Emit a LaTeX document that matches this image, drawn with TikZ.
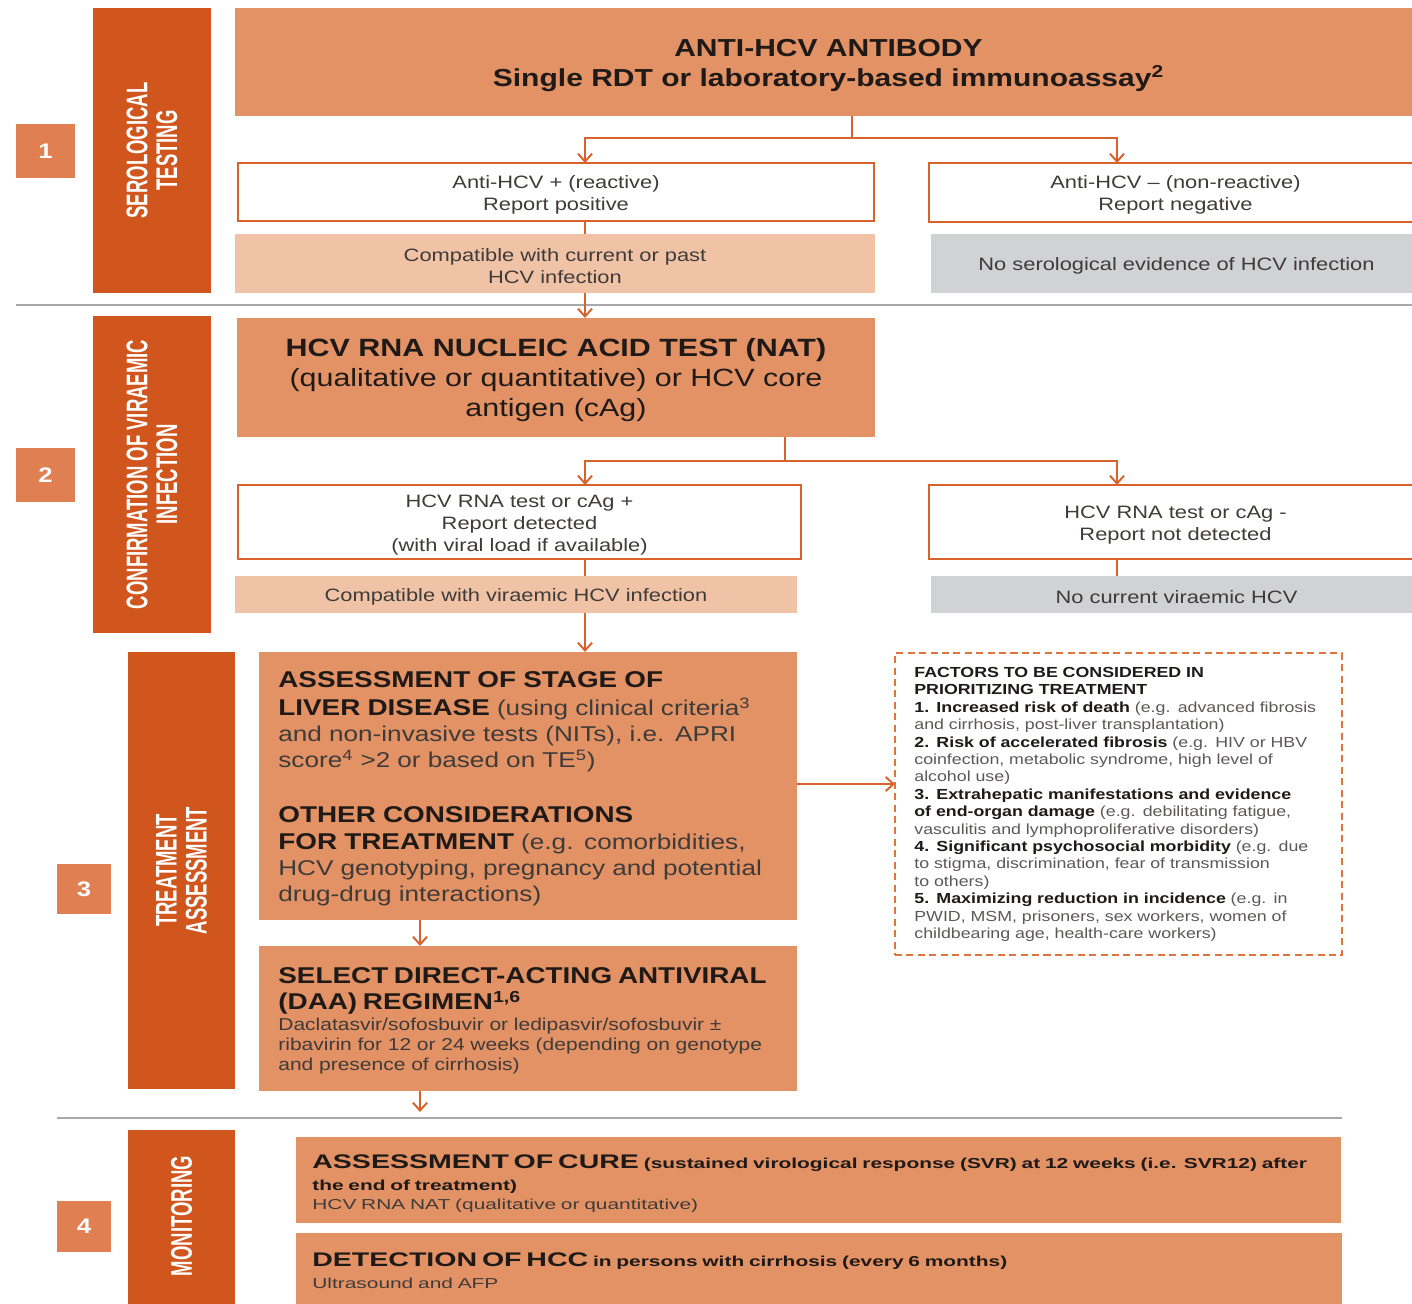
\documentclass[tikz,border=0pt]{standalone}
\usepackage{fontspec}
\setmainfont{Liberation Sans}[FakeStretch=1.22]
\newfontfamily\condf{Liberation Sans}[FakeStretch=0.62]
\newfontfamily\widef{Liberation Sans}[FakeStretch=1.45]
\usetikzlibrary{fit,arrows.meta,calc}
\definecolor{sideC}{HTML}{D0561E}
\definecolor{numC}{HTML}{E07F52}
\definecolor{mainC}{HTML}{E29265}
\definecolor{peachC}{HTML}{F1C3A6}
\definecolor{greyC}{HTML}{D1D2D4}
\definecolor{lineC}{HTML}{D8622B}
\definecolor{dashC}{HTML}{E0743A}
\definecolor{divC}{HTML}{A6A8AB}
\definecolor{darkC}{HTML}{1F1A17}
\definecolor{textC}{HTML}{3F3B39}
\newcommand{\fs}[2]{\fontsize{#1}{#2}\selectfont}
\begin{document}
\begin{tikzpicture}[x=0.02cm,y=-0.02cm,
  box/.style={inner sep=0pt, outer sep=0pt},
  sidebar/.style={box, fill=sideC},
  sidelabel/.style={inner sep=0pt, text=white, font=\condf\bfseries\fs{17}{17}, align=center, rotate=90},
  numbox/.style={box, fill=numC},
  numtext/.style={inner sep=0pt, text=white, font=\bfseries\fs{12}{12}},
  mainbox/.style={box, fill=mainC},
  outbox/.style={box, draw=lineC, line width=1.3pt, fill=white},
  peachbox/.style={box, fill=peachC},
  greybox/.style={box, fill=greyC},
  ctext/.style={inner sep=0pt, align=center, text=textC, font=\fs{10.2}{12.5}, yshift=-1.6pt},
  ltext/.style={inner sep=0pt, anchor=north west, align=left, text=textC},
  conn/.style={draw=lineC, line width=1.1pt},
  arr/.style={conn, -{Straight Barb[length=4.5pt,width=8pt,line width=1.1pt]}},
  divider/.style={draw=divC, line width=1.4pt},
  factorbox/.style={box, draw=dashC, line width=0.9pt, dash pattern=on 4pt off 2.5pt}
]
\useasboundingbox (0,0) rectangle (1412,1303);
\clip (0,0) rectangle (1412,1303);
\fill[white] (0,0) rectangle (1412,1303);

% ---------- Section 1 ----------
\node[numbox, fit={(16,124) (75,178)}] (n1) {};
\node[numtext] (n1t) at (n1.center) {1};
\node[sidebar, fit={(93,8) (211,293)}] (s1) {};
\node[sidelabel] (s1t) at (s1.center) {SEROLOGICAL\\TESTING};

\node[mainbox, fit={(235,8) (1422,116)}] (anti) {};
\node[ctext, text=darkC, font=\bfseries\fs{14}{17.2}, yshift=-0.4pt] (antiT) at (anti.center)
  {ANTI-HCV ANTIBODY\\Single RDT or laboratory-based immunoassay\textsuperscript{2}};
\node[outbox, fit={(238,163) (874,221)}] (pos) {};
\node[ctext] (posT) at (pos.center) {Anti-HCV + (reactive)\\Report positive};
\node[outbox, fit={(929,163) (1422,222)}] (neg) {};
\node[ctext] (negT) at (neg.center) {Anti-HCV -- (non-reactive)\\Report negative};
\node[peachbox, fit={(235,234) (875,293)}] (peach1) {};
\node[ctext] (peach1T) at (peach1.center) {Compatible with current or past\\HCV infection};
\node[greybox, fit={(931,234) (1422,293)}] (grey1) {};
\node[ctext] (grey1T) at (grey1.center) {No serological evidence of HCV infection};

\draw[divider] (16,305) -- (1412,305);

\coordinate (j1) at (852,138);
\coordinate (a1) at (585,138);
\coordinate (b1) at (1117,138);
\draw[conn] (j1 |- anti.south) -- (j1);
\draw[arr] (j1) -- (a1) -- (a1 |- pos.north);
\draw[arr] (j1) -- (b1) -- (b1 |- neg.north);
\draw[conn] (a1 |- pos.south) -- (a1 |- peach1.north);

% ---------- Section 2 ----------
\node[numbox, fit={(16,448) (75,502)}] (n2) {};
\node[numtext] (n2t) at (n2.center) {2};
\node[sidebar, fit={(93,316) (211,633)}] (s2) {};
\node[sidelabel] (s2t) at (s2.center) {CONFIRMATION OF VIRAEMIC\\INFECTION};

\node[mainbox, fit={(237,318) (875,437)}] (nat) {};
\node[ctext, text=darkC, font=\fs{14.2}{17}] (natT) at (nat.center)
  {{\bfseries HCV RNA NUCLEIC ACID TEST (NAT)}\\(qualitative or quantitative) or HCV core\\antigen (cAg)};
\node[outbox, fit={(238,485) (801,559)}] (det) {};
\node[ctext] (detT) at (det.center) {HCV RNA test or cAg +\\Report detected\\(with viral load if available)};
\node[outbox, fit={(929,485) (1422,559)}] (notdet) {};
\node[ctext] (notdetT) at (notdet.center) {HCV RNA test or cAg -\\Report not detected};
\node[peachbox, fit={(235,576) (797,613)}] (peach2) {};
\node[ctext] (peach2T) at (peach2.center) {Compatible with viraemic HCV infection};
\node[greybox, fit={(931,576) (1422,613)}] (grey2) {};
\node[ctext] (grey2T) at (grey2.center) {No current viraemic HCV};

\draw[arr] (a1 |- peach1.south) -- (a1 |- nat.north);

\coordinate (j2) at (785,461);
\coordinate (a2) at (585,461);
\coordinate (b2) at (1117,461);
\draw[conn] (j2 |- nat.south) -- (j2);
\draw[arr] (j2) -- (a2) -- (a2 |- det.north);
\draw[arr] (j2) -- (b2) -- (b2 |- notdet.north);
\draw[conn] (a2 |- det.south) -- (a2 |- peach2.north);
\draw[conn] (b2 |- notdet.south) -- (b2 |- grey2.north);

% ---------- Section 3 ----------
\node[numbox, fit={(57,864) (111,914)}] (n3) {};
\node[numtext] (n3t) at (n3.center) {3};
\node[sidebar, fit={(128,652) (235,1089)}] (s3) {};
\node[sidelabel] (s3t) at (s3.center) {TREATMENT\\ASSESSMENT};

\node[mainbox, fit={(259,652) (797,920)}] (assess) {};
\node[ltext, text width=10.5cm, font=\fs{12.2}{14.8}] (assessT) at (278,671)
  {{\bfseries\color{darkC}\fs{13}{14.8}ASSESSMENT OF STAGE OF}\\[1.5pt]
   {\bfseries\color{darkC}\fs{13}{14.8}LIVER DISEASE} (using clinical criteria\textsuperscript{3}\\
   and non-invasive tests (NITs), i.e. APRI\\
   score\textsuperscript{4} >2 or based on TE\textsuperscript{5})\\[16pt]
   {\bfseries\color{darkC}\fs{13}{14.8}OTHER CONSIDERATIONS}\\[1pt]
   {\bfseries\color{darkC}\fs{13}{14.8}FOR TREATMENT} (e.g. comorbidities,\\
   HCV genotyping, pregnancy and potential\\
   drug-drug interactions)};

\node[mainbox, fit={(259,946) (797,1091)}] (select) {};
\node[ltext, text width=10.5cm, font=\fs{9.8}{11.3}] (selectT) at (278,967)
  {{\bfseries\color{darkC}\fs{13}{15}SELECT DIRECT-ACTING ANTIVIRAL\\(DAA) REGIMEN\textsuperscript{1,6}\par}\vspace{0.6pt}
   Daclatasvir/sofosbuvir or ledipasvir/sofosbuvir ±\\
   ribavirin for 12 or 24 weeks (depending on genotype\\
   and presence of cirrhosis)};

\node[factorbox, fit={(895,653) (1342,955)}] (factors) {};
\node[ltext, text width=8.8cm, font=\fs{8.3}{9.9}, text=textC!85!white] (factT) at (914,667)
  {{\bfseries\color{darkC}FACTORS TO BE CONSIDERED IN\\PRIORITIZING TREATMENT\\1. Increased risk of death} (e.g. advanced fibrosis\\
   and cirrhosis, post-liver transplantation)\\
   {\bfseries\color{darkC}2. Risk of accelerated fibrosis} (e.g. HIV or HBV\\
   coinfection, metabolic syndrome, high level of\\
   alcohol use)\\
   {\bfseries\color{darkC}3. Extrahepatic manifestations and evidence\\of end-organ damage} (e.g. debilitating fatigue,\\
   vasculitis and lymphoproliferative disorders)\\
   {\bfseries\color{darkC}4. Significant psychosocial morbidity} (e.g. due\\
   to stigma, discrimination, fear of transmission\\
   to others)\\
   {\bfseries\color{darkC}5. Maximizing reduction in incidence} (e.g. in\\
   PWID, MSM, prisoners, sex workers, women of\\
   childbearing age, health-care workers)};

\draw[arr] (a2 |- peach2.south) -- (a2 |- assess.north);
\coordinate (x3) at (420,0);
\coordinate (e3) at (420,1112);
\coordinate (y3) at (0,784);
\draw[arr] (x3 |- assess.south) -- (x3 |- select.north);
\draw[arr] (x3 |- select.south) -- (e3);
\draw[arr] (y3 -| assess.east) -- (y3 -| factors.west);

\draw[divider] (57,1118) -- (1342,1118);

% ---------- Section 4 ----------
\node[numbox, fit={(57,1201) (111,1252)}] (n4) {};
\node[numtext] (n4t) at (n4.center) {4};
\node[sidebar, fit={(128,1130) (235,1320)}] (s4) {};
\node[sidelabel] (s4t) at (181.5,1216) {MONITORING};

\node[mainbox, fit={(296,1137) (1341,1223)}] (cure) {};
\node[ltext, text width=21cm, font=\widef\fs{8.2}{11.3}] (cureT) at (312,1154)
  {{\bfseries\color{darkC}\fs{8.2}{12.5}{\fs{11.2}{12.5}ASSESSMENT OF CURE} (sustained virological response (SVR) at 12 weeks (i.e. SVR12) after\\the end of treatment)\par}
   HCV RNA NAT (qualitative or quantitative)};

\node[mainbox, fit={(296,1233) (1342,1325)}] (hcc) {};
\node[ltext, text width=21cm, font=\widef\fs{8.2}{12.5}] (hccT) at (312,1252)
  {{\bfseries\color{darkC}{\fs{11.2}{12.5}DETECTION OF HCC} \fs{8.2}{12.5}in persons with cirrhosis (every 6 months)\par}
   Ultrasound and AFP};
\end{tikzpicture}
\end{document}
